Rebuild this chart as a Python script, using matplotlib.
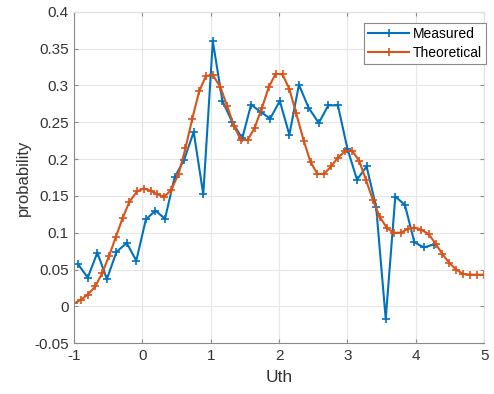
import matplotlib
matplotlib.use("Agg")
import matplotlib.pyplot as plt

# measured probability vs threshold
meas_x = [-0.94, -0.80, -0.66, -0.52, -0.38, -0.23, -0.09, 0.05, 0.19, 0.33,
          0.47, 0.61, 0.75, 0.89, 1.03, 1.17, 1.31, 1.46, 1.59, 1.73,
          1.87, 2.01, 2.15, 2.29, 2.43, 2.58, 2.72, 2.86, 3.00, 3.14,
          3.28, 3.42, 3.56, 3.70, 3.84, 3.98, 4.12, 4.26]
meas_y = [0.057, 0.039, 0.073, 0.037, 0.074, 0.086, 0.062, 0.118, 0.130, 0.119,
          0.175, 0.199, 0.237, 0.152, 0.360, 0.279, 0.251, 0.228, 0.274, 0.264,
          0.255, 0.279, 0.233, 0.301, 0.270, 0.249, 0.273, 0.273, 0.214, 0.172,
          0.190, 0.135, -0.017, 0.149, 0.138, 0.087, 0.080, 0.084]

# theoretical curve
theo_x = [-1.00, -0.90, -0.80, -0.69, -0.59, -0.49, -0.39, -0.29, -0.19, -0.08,
          0.02, 0.12, 0.22, 0.32, 0.42, 0.53, 0.63, 0.73, 0.83, 0.93,
          1.03, 1.14, 1.24, 1.34, 1.44, 1.54, 1.64, 1.75, 1.85, 1.95,
          2.05, 2.15, 2.25, 2.36, 2.46, 2.56, 2.66, 2.76, 2.86, 2.97,
          3.07, 3.17, 3.27, 3.37, 3.47, 3.58, 3.68, 3.78, 3.88, 3.98,
          4.08, 4.19, 4.29, 4.39, 4.49, 4.59, 4.69, 4.80, 4.90, 5.00]
theo_y = [0.004, 0.009, 0.016, 0.027, 0.045, 0.068, 0.094, 0.120, 0.142, 0.156,
          0.160, 0.157, 0.152, 0.149, 0.158, 0.180, 0.215, 0.255, 0.292, 0.313,
          0.314, 0.298, 0.272, 0.245, 0.226, 0.226, 0.242, 0.270, 0.298, 0.316,
          0.315, 0.295, 0.262, 0.225, 0.196, 0.180, 0.180, 0.190, 0.202, 0.211,
          0.211, 0.198, 0.172, 0.145, 0.122, 0.106, 0.100, 0.100, 0.105, 0.107,
          0.104, 0.098, 0.085, 0.071, 0.059, 0.050, 0.044, 0.043, 0.043, 0.043]

x_ticks = [-1, 0, 1, 2, 3, 4, 5]
y_ticks = [-0.05, 0, 0.05, 0.1, 0.15, 0.2, 0.25, 0.3, 0.35, 0.4]
y_labels = ["-0.05", "0", "0.05", "0.1", "0.15", "0.2", "0.25", "0.3", "0.35", "0.4"]

plt.rcParams["font.family"] = ["Liberation Sans", "DejaVu Sans"]
plt.rcParams["axes.unicode_minus"] = False

fig = plt.figure(figsize=(4.94, 3.94), dpi=100)
ax = fig.add_axes([0.150, 0.129, 0.830, 0.841])

ax.plot(meas_x, meas_y, color="#0072BD", lw=1.5, marker="+", ms=6, mew=1.2,
        label="Measured")
ax.plot(theo_x, theo_y, color="#D95319", lw=1.5, marker="+", ms=6, mew=1.2,
        label="Theoretical")

ax.set_xlim(-1, 5)
ax.set_ylim(-0.05, 0.4)
ax.set_xticks(x_ticks)
ax.set_yticks(y_ticks)
ax.set_yticklabels(y_labels)
ax.grid(True, color="#e6e6e6", lw=0.8)
ax.set_axisbelow(True)

for s in ["left", "bottom"]:
    ax.spines[s].set_color("#8a8a8a")
for s in ["top", "right"]:
    ax.spines[s].set_color("#e0e0e0")
ax.tick_params(direction="in", length=3, top=True, right=True,
               colors="#8a8a8a", labelcolor="#333333", labelsize=11, pad=4)

ax.set_xlabel("Uth", fontsize=12.5, color="#333333", labelpad=5)
ax.set_ylabel("probability", fontsize=12, color="#333333", labelpad=2)

leg = ax.legend(loc="upper right", bbox_to_anchor=(1.005, 0.966), fontsize=10,
                fancybox=False, framealpha=1, edgecolor="#8a8a8a",
                handlelength=3.0, borderaxespad=0.0, labelspacing=0.35,
                handletextpad=0.25, borderpad=0.3)
leg.get_frame().set_linewidth(0.8)

fig.savefig("out.png", dpi=100)
